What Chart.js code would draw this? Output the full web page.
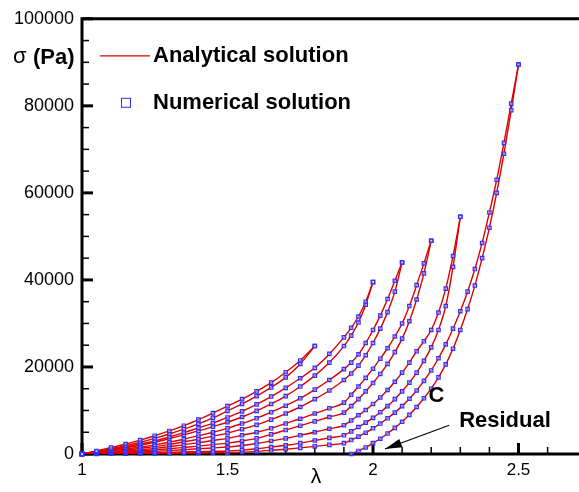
<!DOCTYPE html>
<html>
<head>
<meta charset="utf-8">
<title>Stress vs stretch</title>
<style>
  html, body { margin: 0; padding: 0; background: #fff; }
</style>
</head>
<body>
<canvas id="stress-chart" width="579" height="492"></canvas>
<script src="https://cdn.jsdelivr.net/npm/chart.js"></script>
<script>
  // stretch grid shared by all curves (finer past 1.9 where curves get steep)
  const lam = [1.00, 1.05, 1.10, 1.15, 1.20, 1.25, 1.30, 1.35, 1.40, 1.45,
    1.50, 1.55, 1.60, 1.65, 1.70, 1.75, 1.80, 1.85, 1.90,
    1.925, 1.95, 1.975, 2.00, 2.025, 2.05, 2.075, 2.10, 2.125, 2.15, 2.175,
    2.20, 2.225, 2.25, 2.275, 2.30, 2.325, 2.35, 2.375, 2.40, 2.425, 2.45, 2.475, 2.50];

  // stress (Pa), null where a curve is not defined
  const _ = null;
  const sigA1 = [0, 700, 1500, 2300, 3200, 4200, 5300, 6500, 7900, 9400,
    11000, 12600, 14400, 16400, 18800, 21500, 24800, _, _,
    _, _, _, _, _, _, _, _, _, _, _, _, _, _, _, _, _, _, _, _, _, _, _, _];
  const sigA2 = [0, 550, 1200, 1900, 2700, 3600, 4600, 5700, 6900, 8300,
    9900, 11500, 13300, 15300, 17600, 20700, 24800, _, _,
    _, _, _, _, _, _, _, _, _, _, _, _, _, _, _, _, _, _, _, _, _, _, _, _];
  const sigB1 = [0, 450, 1000, 1600, 2300, 3000, 3900, 4900, 6000, 7100,
    8400, 9800, 11400, 13200, 15200, 17400, 19800, 23000, 26800,
    29000, 31600, 35000, 39500, _, _, _, _, _, _, _, _, _, _, _, _, _, _, _, _, _, _, _, _];
  const sigB2 = [0, 400, 900, 1400, 2000, 2700, 3500, 4400, 5300, 6300,
    7300, 8500, 9900, 11500, 13300, 15500, 18000, 21000, 24800,
    27200, 30200, 34300, 39500, _, _, _, _, _, _, _, _, _, _, _, _, _, _, _, _, _, _, _, _];
  const sigC1 = [0, 300, 700, 1100, 1600, 2100, 2700, 3400, 4200, 5000,
    5900, 7000, 8200, 9600, 11100, 12800, 14800, 17000, 19500,
    21000, 22900, 25500, 28500, 31800, 35600, 39800, 44000,
    _, _, _, _, _, _, _, _, _, _, _, _, _, _, _, _];
  const sigC2 = [0, 250, 550, 900, 1300, 1700, 2200, 2800, 3400, 4100,
    4800, 5700, 6700, 7900, 9300, 10800, 12600, 14600, 17000,
    18500, 20300, 22700, 25500, 28800, 32600, 37300, 44000,
    _, _, _, _, _, _, _, _, _, _, _, _, _, _, _, _];
  const sigD1 = [0, 200, 400, 650, 950, 1300, 1700, 2100, 2600, 3100,
    3600, 4300, 5000, 5900, 7000, 8100, 9300, 10500, 11800,
    13600, 15500, 17500, 19600, 21900, 24300, 27000, 30000, 34000, 38800, 43800, 49000,
    _, _, _, _, _, _, _, _, _, _, _, _];
  const sigD2 = [0, 150, 300, 500, 700, 950, 1200, 1500, 1800, 2150,
    2500, 3000, 3600, 4500, 5500, 6500, 7500, 8500, 9500,
    11000, 12600, 14400, 16300, 18400, 20700, 23400, 26500, 30500, 35500, 41500, 49000,
    _, _, _, _, _, _, _, _, _, _, _, _];
  const sigE1 = [0, 100, 200, 320, 450, 600, 780, 980, 1200, 1400,
    1600, 1950, 2400, 3000, 3600, 4300, 5000, 5800, 6600,
    7700, 8900, 10100, 11500, 13000, 14700, 16600, 18700, 21000, 23600, 25900,
    28500, 32500, 38000, 45500, 54500, _, _, _, _, _, _, _, _];
  const sigE2 = [0, 50, 100, 160, 230, 300, 380, 460, 550, 620,
    700, 900, 1200, 1600, 2000, 2500, 3100, 3700, 4300,
    5200, 6200, 7200, 8300, 9600, 11000, 12600, 14400, 16400, 18700, 21400,
    24500, 28500, 34000, 43000, 54500, _, _, _, _, _, _, _, _];
  const sigF1 = [0, 20, 40, 70, 100, 130, 160, 200, 240, 270,
    300, 420, 600, 850, 1100, 1400, 1750, 2100, 2500,
    3200, 4000, 4900, 5900, 7000, 8200, 9500, 11000, 12700, 14600, 16800,
    19200, 22000, 25200, 28800, 32800, 37300, 42500, 48500, 55500, 63000, 71500, 80500, 89500];
  // curve starting from the residual stretch
  const sigF2 = [_, _, _, _, _, _, _, _, _, _, _, _, _, _, _, _, _, _, _,
    0, 700, 1500, 2500, 3500, 4700, 6000, 7400, 9000, 10800, 12800,
    15000, 17600, 20600, 24200, 28500, 33300, 38700, 45000, 52000, 60000, 69000, 79000, 89500];

  const curves = [sigA1, sigA2, sigB1, sigB2, sigC1, sigC2, sigD1, sigD2, sigE1, sigE2, sigF1, sigF2];

  const xTicks = [1, 1.5, 2, 2.5];
  const yTicks = [0, 20000, 40000, 60000, 80000, 100000];

  const RED = '#dc0000';
  const BLUE = '#3030ff';

  const toPoints = s => lam.map((l, i) => s[i] == null ? null : { x: l, y: s[i] }).filter(p => p);

  const datasets = [];
  curves.forEach(s => {
    // analytical line
    datasets.push({
      data: toPoints(s),
      borderColor: RED,
      borderWidth: 1.4,
      pointRadius: 0,
      cubicInterpolationMode: 'monotone',
      order: 2
    });
    // numerical markers
    datasets.push({
      data: toPoints(s),
      showLine: false,
      pointStyle: 'rect',
      pointRadius: 2.4,
      pointBorderWidth: 1.2,
      pointBorderColor: BLUE,
      pointBackgroundColor: 'rgba(210,210,255,0.5)',
      clip: false,
      order: 1
    });
  });

  // axes drawn by hand so ticks point into the plot
  const frame = {
    id: 'frame',
    beforeDatasetsDraw(chart) {
      const { ctx, chartArea: a, scales: { x, y } } = chart;
      ctx.save();
      ctx.strokeStyle = '#000';
      ctx.lineWidth = 3;
      ctx.beginPath();
      ctx.moveTo(chart.width, a.top);
      ctx.lineTo(a.left, a.top);
      ctx.lineTo(a.left, a.bottom);
      ctx.lineTo(chart.width, a.bottom);
      ctx.stroke();

      for (let v = 0; v <= 100000; v += 5000) {
        const p = y.getPixelForValue(v);
        const major = v % 20000 === 0;
        ctx.lineWidth = major ? 3 : 1.5;
        ctx.beginPath();
        ctx.moveTo(a.left, p);
        ctx.lineTo(a.left + (major ? 11 : 7), p);
        ctx.stroke();
      }
      for (let k = 10; k <= 26; k++) {
        const v = k / 10;
        const p = x.getPixelForValue(v);
        const major = k % 5 === 0;
        ctx.lineWidth = major ? 3 : 1.5;
        ctx.beginPath();
        ctx.moveTo(p, a.bottom);
        ctx.lineTo(p, a.bottom - (major ? 11 : 7));
        ctx.stroke();
      }
      ctx.restore();
    },
    afterDraw(chart) {
      const { ctx, chartArea: a, scales: { x, y } } = chart;
      ctx.save();
      ctx.fillStyle = '#000';
      ctx.textBaseline = 'middle';

      // axis titles
      ctx.font = '22px "Liberation Sans", Arial, sans-serif';
      ctx.textAlign = 'left';
      ctx.fillText('σ', 13, 57);
      ctx.font = 'bold 22px "Liberation Sans", Arial, sans-serif';
      ctx.fillText('(Pa)', 33, 58);
      ctx.font = '21px "Liberation Sans", Arial, sans-serif';
      ctx.textAlign = 'center';
      ctx.fillText('λ', 316, 477);

      // legend
      ctx.strokeStyle = RED;
      ctx.lineWidth = 1.3;
      ctx.beginPath();
      ctx.moveTo(a.left + 18, a.top + 37);
      ctx.lineTo(a.left + 68, a.top + 37);
      ctx.stroke();
      ctx.strokeStyle = BLUE;
      ctx.lineWidth = 1;
      ctx.strokeRect(a.left + 39.5, a.top + 79.5, 9, 9);
      ctx.font = 'bold 22px "Liberation Sans", Arial, sans-serif';
      ctx.textAlign = 'left';
      ctx.fillText('Analytical solution', a.left + 71, a.top + 37);
      ctx.fillText('Numerical solution', a.left + 71, a.top + 84);

      // annotations
      ctx.font = 'bold 22px "Liberation Sans", Arial, sans-serif';
      ctx.textAlign = 'center';
      ctx.fillText('C', x.getPixelForValue(2.218), y.getPixelForValue(13400));
      ctx.textAlign = 'left';
      ctx.fillText('Residual', x.getPixelForValue(2.296), y.getPixelForValue(7500));

      const x0 = x.getPixelForValue(2.262), y0 = y.getPixelForValue(6600);
      const x1 = x.getPixelForValue(2.041), y1 = y.getPixelForValue(1140);
      const ang = Math.atan2(y1 - y0, x1 - x0);
      ctx.strokeStyle = '#000';
      ctx.lineWidth = 1.2;
      ctx.beginPath();
      ctx.moveTo(x0, y0);
      ctx.lineTo(x1, y1);
      ctx.stroke();
      ctx.beginPath();
      ctx.moveTo(x1, y1);
      ctx.lineTo(x1 - 17 * Math.cos(ang) + 4.5 * Math.sin(ang), y1 - 17 * Math.sin(ang) - 4.5 * Math.cos(ang));
      ctx.lineTo(x1 - 17 * Math.cos(ang) - 4.5 * Math.sin(ang), y1 - 17 * Math.sin(ang) + 4.5 * Math.cos(ang));
      ctx.closePath();
      ctx.fill();
      ctx.restore();
    }
  };

  Chart.defaults.font.family = '"Liberation Sans", Arial, sans-serif';
  Chart.defaults.color = '#000';

  new Chart(document.getElementById('stress-chart'), {
    type: 'line',
    data: { datasets },
    options: {
      responsive: false,
      animation: false,
      layout: { padding: { top: 14, right: 0, left: 0, bottom: 0 } },
      plugins: { legend: { display: false }, tooltip: { enabled: false } },
      scales: {
        x: {
          type: 'linear',
          min: 1,
          max: 2.69,
          grid: { display: false, drawTicks: false, tickLength: 0 },
          border: { display: false },
          ticks: { font: { size: 17 }, padding: 6, callback: v => String(v) },
          afterBuildTicks: s => { s.ticks = xTicks.map(v => ({ value: v })); },
          afterFit: s => { s.height = 38; }
        },
        y: {
          min: 0,
          max: 100000,
          grid: { display: false, drawTicks: false, tickLength: 0 },
          border: { display: false },
          ticks: { font: { size: 18 }, padding: 8, callback: v => String(v) },
          afterBuildTicks: s => { s.ticks = yTicks.map(v => ({ value: v })); },
          afterFit: s => { s.width = 82; }
        }
      }
    },
    plugins: [frame]
  });
</script>
</body>
</html>
